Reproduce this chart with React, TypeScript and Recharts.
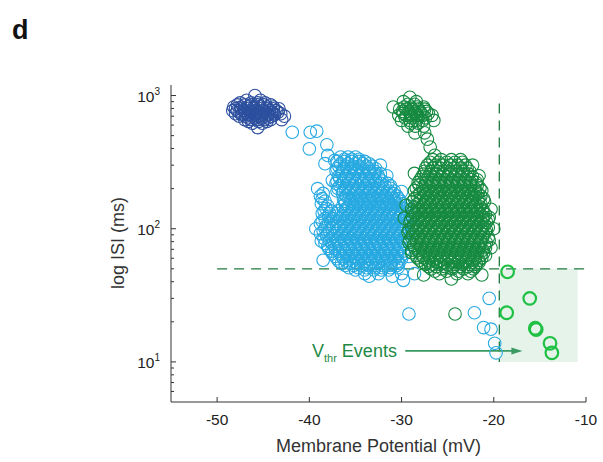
import React from "react";
import {
  ScatterChart, Scatter, XAxis, YAxis, ReferenceLine, ReferenceArea, ReferenceDot,
} from "recharts";

type Row = [number, number[]]; // [ISI (ms), membrane potentials (mV)]

const X_TICKS = [-50, -40, -30, -20, -10];
const Y_MAJOR = [10, 100, 1000];
const Y_TICKS = [6, 7, 8, 9, 10, 20, 30, 40, 50, 60, 70, 80, 90, 100, 200, 300, 400, 500, 600, 700, 800, 900, 1000];

// dark blue cluster (top left)
const darkBlueRows: Row[] = [
  [1000, [-45.9]],
  [920, [-46.8, -45.3]],
  [880, [-47.5, -46.3, -45.6, -44.8]],
  [850, [-47.8, -47.0, -46.3, -45.6, -44.9, -44.2]],
  [820, [-48.2, -47.4, -46.7, -46.0, -45.3, -44.6, -43.9]],
  [795, [-48.0, -47.4, -46.7, -46.0, -45.3, -44.6, -43.9, -43.3]],
  [770, [-48.3, -47.8, -47.1, -46.4, -45.7, -45.0, -44.3, -43.6]],
  [750, [-47.6, -46.9, -46.2, -45.5, -44.8, -44.1, -43.4]],
  [730, [-48.0, -47.3, -46.6, -45.9, -45.2, -44.5, -43.8, -43.1]],
  [715, [-47.3, -46.6, -45.9, -45.2, -44.5, -43.8]],
  [700, [-47.6, -46.9, -46.2, -45.5, -44.8, -44.1, -42.7]],
  [680, [-46.6, -45.9, -45.2, -44.5]],
  [660, [-47.0, -46.3, -45.6, -44.9, -44.2, -43.0]],
  [640, [-46.6, -45.5, -44.6]],
  [620, [-46.2, -45.1]],
  [575, [-45.6]],
];

// light blue cluster, outer rows and strays
const lightBlueRows: Row[] = [
  [540, [-39.2]],
  [530, [-41.85, -39.9]],
  [427, [-38.1]],
  [398, [-40.0]],
  [355, [-38.0]],
  [345, [-36.6, -35.8, -35.0]],
  [326, [-37.25]],
  [320, [-37.0, -36.2, -35.4, -34.6, -34.0]],
  [308, [-38.3]],
  [300, [-32.3]],
  [295, [-36.8, -36.0, -35.3, -34.6, -33.8, -33.2]],
  [270, [-37.1, -36.4, -35.6, -34.9, -34.2, -33.5, -32.9]],
  [250, [-31.6]],
  [248, [-36.8, -36.0, -35.3, -34.6, -33.9, -33.2, -32.5]],
  [231, [-37.5]],
  [228, [-37.0, -36.3, -35.6, -34.9, -34.2, -33.5, -32.8, -32.1]],
  [210, [-36.7, -36.0, -35.3, -34.6, -33.9, -33.2, -32.5, -31.8, -31.2]],
  [200, [-39.1]],
  [192, [-37.0, -36.3, -35.6, -34.9, -34.2, -33.5, -32.8, -32.1, -31.4, -30.8]],
  [190, [-30.0]],
  [176, [-38.8, -36.0, -35.3, -34.6, -33.9, -33.2, -32.5, -31.8, -31.1, -30.5]],
  [161, [-38.3, -36.2, -35.5, -34.9, -34.2, -33.5, -32.8, -32.1, -31.4, -30.8, -30.2]],
  [148, [-38.0, -36.4, -35.7, -35.0, -34.3, -33.6, -32.9, -32.2, -31.5, -30.9, -30.3, -29.3]],
  [140, [-29.0]],
  [136, [-38.4, -37.6, -36.9, -36.1, -35.4, -34.7, -34.0, -33.3, -32.6, -31.9, -31.2, -30.6, -30.0]],
  [124, [-37.9, -37.1, -36.4, -35.7, -35.0, -34.3, -33.6, -32.9, -32.2, -31.5, -30.8, -30.1, -29.0]],
  [114, [-38.6, -37.7, -36.9, -36.2, -35.5, -34.8, -34.1, -33.4, -32.7, -32.0, -31.3, -30.6, -29.9]],
  [105, [-28.8]],
  [104, [-38.2, -37.4, -36.6, -35.9, -35.2, -34.5, -33.8, -33.1, -32.4, -31.7, -31.0, -30.3, -29.7]],
  [100, [-39.3]],
  [96, [-38.5, -37.8, -37.0, -36.3, -35.6, -34.9, -34.2, -33.5, -32.8, -32.1, -31.4, -30.7, -30.0, -28.8]],
  [88, [-38.1, -37.3, -36.6, -35.9, -35.2, -34.5, -33.8, -33.1, -32.4, -31.7, -31.0, -30.3, -29.6]],
  [81, [-38.7, -37.8, -37.0, -36.2, -35.5, -34.8, -34.1, -33.4, -32.7, -32.0, -31.3, -30.6, -29.9]],
  [74, [-38.0, -37.3, -36.6, -35.8, -35.1, -34.4, -33.7, -33.0, -32.3, -31.6, -30.9, -30.2]],
  [68, [-37.6, -36.9, -36.1, -35.4, -34.7, -34.0, -33.3, -32.6, -31.9, -31.2, -30.5, -29.8]],
  [62, [-37.2, -36.4, -35.7, -35.0, -34.3, -33.6, -32.9, -32.2, -31.5, -30.8, -30.1, -29.2]],
  [58, [-38.5]],
  [57, [-36.8, -36.0, -35.3, -34.6, -33.9, -33.2, -32.5, -31.8, -31.1, -30.4]],
  [53, [-36.1, -35.2, -34.4, -33.6, -32.8, -32.0, -31.2, -30.5]],
  [49, [-35.0, -34.0, -33.0, -32.2, -31.4]],
  [46, [-34.0, -32.5, -30.0, -28.6]],
  [44, [-33.5, -31.0]],
  [41, [-29.8]],
  [30, [-20.5]],
  [23.4, [-22.1]],
  [22.9, [-29.2]],
  [18.1, [-21.1]],
  [17.6, [-20.3]],
  [13.8, [-19.9]],
  [11.7, [-19.75]],
];

// light blue cluster, inner rows
const lightBlueCore: Row[] = [
  [332, [-36.2, -35.4, -34.6]],
  [307, [-36.6, -35.8, -35.0, -34.2, -33.5]],
  [282, [-37.0, -36.3, -35.6, -34.9, -34.2, -33.5, -32.8]],
  [259, [-36.5, -35.7, -35.0, -34.3, -33.5, -32.9, -32.3]],
  [238, [-36.7, -36.0, -35.3, -34.5, -33.8, -33.1, -32.4]],
  [219, [-37.1, -36.4, -35.7, -35.0, -34.2, -33.5, -32.9, -32.2, -31.5]],
  [201, [-36.9, -36.1, -35.5, -34.8, -34.0, -33.4, -32.6, -32.0, -31.2]],
  [184, [-38.5, -36.4, -35.7, -35.0, -34.3, -33.6, -32.9, -32.2, -31.5, -30.9]],
  [168, [-38.6, -36.3, -35.7, -35.0, -34.3, -33.6, -32.9, -32.2, -31.5, -30.8, -30.3]],
  [154, [-38.7, -36.1, -35.4, -34.7, -34.0, -33.3, -32.5, -31.8, -31.2, -30.6, -29.8]],
  [142, [-38.2, -36.0, -35.3, -34.6, -33.9, -33.2, -32.5, -31.8, -31.1, -30.5, -29.7]],
  [130, [-38.6, -37.8, -37.0, -36.3, -35.6, -34.9, -34.2, -33.5, -32.8, -32.1, -31.4, -30.8, -30.1, -29.4]],
  [119, [-38.3, -37.4, -36.7, -36.0, -35.3, -34.6, -33.9, -33.2, -32.5, -31.8, -31.1, -30.4, -29.5]],
  [109, [-38.8, -37.9, -37.1, -36.3, -35.6, -34.9, -34.2, -33.5, -32.8, -32.1, -31.4, -30.7, -30.0, -29.3]],
  [100, [-38.3, -37.5, -36.8, -36.1, -35.4, -34.7, -34.0, -33.3, -32.6, -31.9, -31.2, -30.5, -29.8]],
  [92, [-38.8, -38.0, -37.2, -36.5, -35.8, -35.1, -34.4, -33.7, -33.0, -32.3, -31.6, -30.9, -30.2, -29.4]],
  [84.5, [-38.4, -37.6, -36.9, -36.2, -35.5, -34.8, -34.1, -33.4, -32.7, -32.0, -31.3, -30.6, -29.8]],
  [77.5, [-38.3, -37.5, -36.8, -36.0, -35.3, -34.6, -33.9, -33.2, -32.5, -31.8, -31.1, -30.4, -29.6]],
  [71, [-37.9, -37.2, -36.4, -35.7, -35.0, -34.3, -33.6, -32.9, -32.2, -31.5, -30.8, -30.1]],
  [65, [-37.5, -36.7, -36.0, -35.3, -34.6, -33.9, -33.2, -32.5, -31.8, -31.1, -30.4, -29.7]],
  [59.5, [-37.0, -36.3, -35.6, -34.9, -34.2, -33.5, -32.8, -32.1, -31.4, -30.7, -30.0]],
  [55, [-36.5, -35.6, -34.9, -34.1, -33.4, -32.6, -31.9, -31.1, -30.3]],
  [51, [-35.7, -34.7, -33.8, -32.9, -32.1, -31.2, -30.4]],
];

// dark green clusters, outer rows and strays
const darkGreenRows: Row[] = [
  [970, [-29.1]],
  [900, [-29.8, -28.4]],
  [860, [-29.3, -28.6]],
  [820, [-30.9, -29.7, -29.0, -28.3, -27.6]],
  [790, [-30.2, -29.5, -28.9, -28.2, -27.5]],
  [760, [-29.9, -29.2, -28.6, -28.0, -27.3]],
  [735, [-29.8, -29.1, -28.5, -27.9, -27.1]],
  [710, [-30.3, -29.5, -28.9, -28.3, -27.7, -26.7]],
  [680, [-29.6, -28.9, -28.2, -27.4]],
  [650, [-30.0, -29.1, -28.4, -27.7, -26.5]],
  [620, [-29.0, -28.2]],
  [590, [-29.3, -28.5, -27.6]],
  [525, [-28.55, -27.5]],
  [470, [-27.2]],
  [410, [-26.9]],
  [356, [-26.4]],
  [330, [-26.6, -25.7, -24.6, -23.6]],
  [300, [-27.2, -26.3, -25.5, -24.7, -23.9, -23.1, -22.3]],
  [270, [-27.5, -26.8, -26.1, -25.4, -24.7, -24.0, -23.3, -22.6]],
  [260, [-28.6]],
  [250, [-21.6]],
  [245, [-27.8, -27.1, -26.4, -25.7, -25.0, -24.3, -23.6, -22.9, -22.3]],
  [222, [-28.2, -27.4, -26.7, -26.0, -25.3, -24.6, -23.9, -23.2, -22.5, -21.9]],
  [202, [-28.4, -27.7, -27.0, -26.3, -25.6, -24.9, -24.2, -23.5, -22.8, -22.1, -21.5]],
  [184, [-28.0, -27.3, -26.6, -25.9, -25.2, -24.5, -23.8, -23.1, -22.4, -21.7]],
  [168, [-28.6, -27.9, -27.2, -26.5, -25.8, -25.1, -24.4, -23.7, -23.0, -22.3, -21.6, -21.1]],
  [153, [-28.3, -27.6, -26.9, -26.2, -25.5, -24.8, -24.1, -23.4, -22.7, -22.0, -21.4]],
  [150, [-29.5]],
  [140, [-28.9, -28.1, -27.4, -26.7, -26.0, -25.3, -24.6, -23.9, -23.2, -22.5, -21.8, -21.2, -20.3]],
  [128, [-28.5, -27.8, -27.1, -26.4, -25.7, -25.0, -24.3, -23.6, -22.9, -22.2, -21.5, -20.9]],
  [120, [-29.7]],
  [117, [-29.0, -28.2, -27.5, -26.8, -26.1, -25.4, -24.7, -24.0, -23.3, -22.6, -21.9, -21.2, -20.6]],
  [107, [-28.7, -28.0, -27.3, -26.6, -25.9, -25.2, -24.5, -23.8, -23.1, -22.4, -21.7, -21.0]],
  [100, [-20.0]],
  [98, [-29.2, -28.4, -27.7, -27.0, -26.3, -25.6, -24.9, -24.2, -23.5, -22.8, -22.1, -21.4, -20.8]],
  [90, [-28.8, -28.1, -27.4, -26.7, -26.0, -25.3, -24.6, -23.9, -23.2, -22.5, -21.8, -21.1]],
  [82, [-29.1, -28.4, -27.7, -27.0, -26.3, -25.6, -24.9, -24.2, -23.5, -22.8, -22.1, -21.4, -20.5]],
  [75, [-28.7, -28.0, -27.3, -26.6, -25.9, -25.2, -24.5, -23.8, -23.1, -22.4, -21.7, -21.0]],
  [72, [-20.3]],
  [69, [-28.9, -28.2, -27.5, -26.8, -26.1, -25.4, -24.7, -24.0, -23.3, -22.6, -21.9, -21.2]],
  [63, [-28.4, -27.7, -27.0, -26.3, -25.6, -24.9, -24.2, -23.5, -22.8, -22.1, -21.4, -20.9]],
  [58, [-28.0, -27.2, -26.5, -25.8, -25.1, -24.4, -23.7, -23.0, -22.3, -21.6]],
  [54, [-27.4, -26.6, -25.8, -25.0, -24.2, -23.4, -22.6, -21.9]],
  [50, [-26.8, -25.6, -24.5, -23.3, -22.2]],
  [46, [-25.9, -24.0, -22.8]],
  [45, [-27.6, -21.3]],
  [42, [-24.6]],
  [22.9, [-24.2]],
];

// dark green main cluster, inner rows
const darkGreenCore: Row[] = [
  [315, [-26.9, -26.0, -25.1, -24.2, -23.4]],
  [285, [-27.4, -26.6, -25.8, -25.0, -24.3, -23.6, -22.9]],
  [257, [-27.6, -26.9, -26.2, -25.5, -24.8, -24.1, -23.4, -22.7]],
  [233, [-28.0, -27.3, -26.6, -25.9, -25.2, -24.5, -23.8, -23.1, -22.4, -21.8]],
  [212, [-28.1, -27.4, -26.7, -26.0, -25.3, -24.6, -23.9, -23.2, -22.5, -21.8]],
  [193, [-28.6, -27.6, -26.9, -26.2, -25.5, -24.8, -24.1, -23.4, -22.7, -22.0, -21.3]],
  [176, [-28.3, -27.6, -26.9, -26.2, -25.5, -24.8, -24.1, -23.4, -22.7, -22.0, -21.4]],
  [160, [-28.8, -28.0, -27.3, -26.6, -25.9, -25.2, -24.5, -23.8, -23.1, -22.4, -21.7, -21.0]],
  [146, [-28.6, -27.8, -27.1, -26.4, -25.7, -25.0, -24.3, -23.6, -22.9, -22.2, -21.5]],
  [134, [-28.8, -28.2, -27.4, -26.7, -26.0, -25.3, -24.6, -23.9, -23.2, -22.5, -21.8, -21.1]],
  [122, [-28.8, -28.1, -27.4, -26.7, -26.0, -25.3, -24.6, -23.9, -23.2, -22.5, -21.8, -21.1, -20.5]],
  [112, [-29.1, -28.4, -27.7, -27.0, -26.3, -25.6, -24.9, -24.2, -23.5, -22.8, -22.1, -21.4, -20.8]],
  [102, [-28.9, -28.2, -27.5, -26.8, -26.1, -25.4, -24.7, -24.0, -23.3, -22.6, -21.9, -21.2, -20.6]],
  [94, [-29.3, -28.5, -27.8, -27.1, -26.4, -25.7, -25.0, -24.3, -23.6, -22.9, -22.2, -21.5, -20.9]],
  [86, [-28.9, -28.2, -27.5, -26.8, -26.1, -25.4, -24.7, -24.0, -23.3, -22.6, -21.9, -21.2, -20.6]],
  [78.5, [-29.2, -28.4, -27.7, -27.0, -26.3, -25.6, -24.9, -24.2, -23.5, -22.8, -22.1, -21.4, -20.8]],
  [72, [-28.6, -27.9, -27.2, -26.5, -25.8, -25.1, -24.4, -23.7, -23.0, -22.3, -21.6, -20.9]],
  [66, [-28.9, -28.1, -27.4, -26.7, -26.0, -25.3, -24.6, -23.9, -23.2, -22.5, -21.8, -21.1]],
  [60.5, [-28.3, -27.6, -26.9, -26.2, -25.5, -24.8, -24.1, -23.4, -22.7, -22.0, -21.3]],
  [56, [-27.8, -27.0, -26.2, -25.4, -24.6, -23.8, -23.0, -22.3, -21.6]],
  [52, [-27.1, -26.2, -25.3, -24.4, -23.6, -22.8, -22.0]],
  [48, [-26.4, -25.1, -23.8, -22.5]],
];

// Vthr events
const vthrX = [-18.5, -16.1, -18.6, -15.5, -15.4, -13.9, -13.7];
const vthrY = [47.5, 30, 23.4, 17.9, 17.5, 13.8, 11.7];

const toPoints = (rows: Row[]) => rows.flatMap(([y, xs]) => xs.map((x) => ({ x, y })));
const darkBlue = toPoints(darkBlueRows);
const lightBlue = toPoints([...lightBlueRows, ...lightBlueCore]);
const darkGreen = toPoints([...darkGreenRows, ...darkGreenCore]);
const vthr = vthrX.map((x, i) => ({ x, y: vthrY[i] }));

const FONT = "'Liberation Sans', Arial, Helvetica, sans-serif";
const AXIS = "#333";

const ring = (color: string, width = 1.1) => (p: any) => (
  <circle cx={p.cx} cy={p.cy} r={6.3} fill="none" stroke={color} strokeWidth={width} />
);

function XTick({ x, y, payload }: any) {
  return (
    <g>
      <line x1={x} x2={x} y1={y} y2={y - 5} stroke={AXIS} />
      <text x={x} y={y + 23} textAnchor="middle" fontSize={15.5} fill="#222" fontFamily={FONT}>
        {payload.value}
      </text>
    </g>
  );
}

function YTick({ x, y, payload }: any) {
  const v = payload.value;
  const major = Y_MAJOR.includes(v);
  return (
    <g>
      <line x1={x} x2={x + (major ? 5 : 3)} y1={y} y2={y} stroke={AXIS} />
      {major && (
        <text x={x - 11} y={y + 6} textAnchor="end" fontSize={15.5} fill="#222" fontFamily={FONT}>
          10<tspan fontSize={10} dy={-7}>{Math.round(Math.log10(v))}</tspan>
        </text>
      )}
    </g>
  );
}

const arrowHead = (p: any) => (
  <path d={`M${p.cx},${p.cy} L${p.cx - 11},${p.cy - 3.5} L${p.cx - 11},${p.cy + 3.5} Z`} fill="#3b9962" />
);

export default function App() {
  return (
    <div style={{ position: "absolute", left: 0, top: 0, width: 603, height: 462, background: "#fff" }}>
      <ScatterChart width={603} height={462} margin={{ top: 85, right: 17, bottom: 0, left: 0 }}>
        <XAxis
          type="number" dataKey="x" domain={[-55, -10]} ticks={X_TICKS} allowDataOverflow
          height={60} tickSize={0} tickMargin={0} tickLine={false}
          axisLine={{ stroke: AXIS }} tick={<XTick />}
        />
        <YAxis
          type="number" dataKey="y" scale="log" domain={[5, 1200]} ticks={Y_TICKS} allowDataOverflow
          width={171} tickSize={0} tickMargin={0} tickLine={false} interval={0}
          axisLine={{ stroke: AXIS }} tick={<YTick />}
        />
        <ReferenceArea x1={-19.4} x2={-10.9} y1={10} y2={50} fill="#e6f3ea" fillOpacity={1} stroke="none" />
        <Scatter data={darkBlue} shape={ring("#2d4f9e")} isAnimationActive={false} />
        <Scatter data={lightBlue} shape={ring("#27a9e1")} isAnimationActive={false} />
        <Scatter data={darkGreen} shape={ring("#168a40")} isAnimationActive={false} />
        <ReferenceLine
          segment={[{ x: -50, y: 50 }, { x: -10.2, y: 50 }]}
          stroke="#1f7a3f" strokeWidth={1.3} strokeDasharray="10 7"
        />
        <ReferenceLine
          segment={[{ x: -19.4, y: 870 }, { x: -19.4, y: 10 }]}
          stroke="#1f7a3f" strokeWidth={1.3} strokeDasharray="10 7"
        />
        <ReferenceLine
          segment={[{ x: -29.6, y: 12.1 }, { x: -17.8, y: 12.1 }]}
          stroke="#3b9962" strokeWidth={1.6}
        />
        <ReferenceDot x={-16.9} y={12.1} shape={arrowHead} />
        <Scatter data={vthr} shape={ring("#1fc144", 2.2)} isAnimationActive={false} />
      </ScatterChart>
      <svg width={603} height={462} style={{ position: "absolute", left: 0, top: 0, pointerEvents: "none" }}>
        <text x={12} y={39} fontSize={27} fontWeight="bold" fill="#111" fontFamily={FONT}>d</text>
        <text x={378.5} y={452} textAnchor="middle" fontSize={18} fill="#333" fontFamily={FONT}>
          Membrane Potential (mV)
        </text>
        <text
          x={124} y={243} textAnchor="middle" fontSize={18} fill="#333" fontFamily={FONT}
          transform="rotate(-90 124 243)"
        >
          log ISI (ms)
        </text>
        <text x={312} y={357} fontSize={18} fill="#1e8a45" fontFamily={FONT}>
          V<tspan fontSize={11} dy={5}>thr</tspan><tspan dy={-5}> Events</tspan>
        </text>
      </svg>
    </div>
  );
}
